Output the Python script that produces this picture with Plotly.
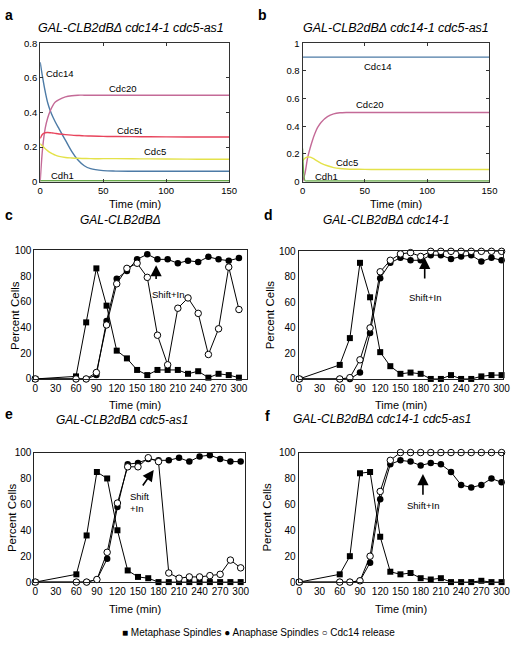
import plotly.graph_objects as go

# simulation time points (min) for panels a and b
t_sim = [0, 2, 4, 6, 8, 10, 12, 15, 20, 25, 30, 35, 40, 50, 60, 80, 100, 125, 150]

a_cdc14 = [0.69, 0.60, 0.52, 0.455, 0.41, 0.375, 0.345, 0.305, 0.24, 0.175, 0.125, 0.092, 0.075, 0.064, 0.061, 0.06, 0.06, 0.06, 0.06]
a_cdc20 = [0.0, 0.20, 0.31, 0.37, 0.41, 0.44, 0.46, 0.475, 0.49, 0.497, 0.5, 0.5, 0.5, 0.5, 0.5, 0.5, 0.5, 0.5, 0.5]
a_cdc5t = [0.25, 0.275, 0.283, 0.284, 0.283, 0.281, 0.279, 0.276, 0.272, 0.269, 0.267, 0.265, 0.264, 0.262, 0.261, 0.26, 0.259, 0.258, 0.258]
a_cdc5 = [0.22, 0.205, 0.19, 0.178, 0.168, 0.16, 0.153, 0.146, 0.14, 0.137, 0.135, 0.134, 0.133, 0.133, 0.133, 0.132, 0.131, 0.13, 0.13]
a_cdh1 = [0.005] * 19

b_cdc14 = [0.9] * 19
b_cdc20 = [0.0, 0.06, 0.17, 0.24, 0.30, 0.35, 0.39, 0.43, 0.47, 0.49, 0.498, 0.5, 0.5, 0.5, 0.5, 0.5, 0.5, 0.5, 0.5]
b_cdc5 = [0.15, 0.17, 0.178, 0.177, 0.17, 0.16, 0.148, 0.133, 0.115, 0.102, 0.095, 0.092, 0.09, 0.089, 0.088, 0.088, 0.088, 0.088, 0.088]
b_cdh1 = [0.24, 0.006, 0.005, 0.005, 0.005, 0.005, 0.005, 0.005, 0.005, 0.005, 0.005, 0.005, 0.005, 0.005, 0.005, 0.005, 0.005, 0.005, 0.005]

# experimental time points (min) for panels c-f
t_exp = [0, 60, 75, 90, 105, 120, 135, 150, 165, 180, 195, 210, 225, 240, 255, 270, 285, 300]

c_meta = [0, 2, 44, 86, 57, 22, 16, 7, 3, 7, 7, 7, 4, 6, 1, 4, 3, 1]
c_ana = [0, 0, 0, 3, 45, 78, 84, 93, 97, 93, 93, 90, 92, 91, 95, 93, 92, 94]
c_rel = [0, 0, 0, 5, 42, 74, 86, 90, 79, 34, 11, 55, 63, 51, 19, 39, 87, 54]

d_meta = [0, 11, 32, 91, 64, 21, 10, 4, 5, 4, 0, 0, 3, 0, 0, 2, 3, 3]
d_ana = [0, 0, 0, 5, 36, 79, 91, 95, 93, 93, 97, 97, 94, 96, 97, 92, 95, 93]
d_rel = [0, 0, 1, 15, 40, 84, 93, 98, 99, 96, 100, 100, 100, 100, 100, 100, 100, 100]

e_meta = [0, 6, 36, 85, 80, 40, 9, 4, 3, 0, 0, 0, 0, 0, 0, 0, 0, 0]
e_ana = [0, 0, 0, 2, 18, 58, 91, 92, 95, 94, 94, 96, 93, 97, 98, 95, 93, 93]
e_rel = [0, 0, 0, 2, 23, 61, 89, 89, 96, 93, 7, 3, 4, 4, 5, 6, 17, 11]

f_meta = [0, 6, 20, 84, 85, 35, 8, 6, 7, 3, 2, 3, 0, 0, 0, 1, 0, 0]
f_ana = [0, 0, 0, 1, 15, 64, 91, 94, 93, 90, 92, 91, 85, 75, 73, 75, 80, 77]
f_rel = [0, 0, 0, 1, 20, 70, 94, 100, 100, 100, 100, 100, 100, 100, 100, 100, 100, 100]

W, H = 520, 646
FONT = "Liberation Sans, Arial, sans-serif"

C14, C20, C5T, C5, CDH1 = "#4d7ba6", "#c46a97", "#e8445c", "#e4e24a", "#6aab4c"


def px_x(p):
    return p / W


def px_y(p):
    return 1 - p / H


fig = go.Figure()

# ---- panels a, b (simulations) ----
sim_a = [(a_cdc14, C14), (a_cdc20, C20), (a_cdc5t, C5T), (a_cdc5, C5), (a_cdh1, CDH1)]
sim_b = [(b_cdc14, C14), (b_cdc20, C20), (b_cdc5, C5), (b_cdh1, CDH1)]
for vals, col in sim_a:
    fig.add_trace(go.Scatter(x=t_sim, y=vals, mode="lines", line=dict(color=col, width=1.4, shape="spline"),
                             xaxis="x", yaxis="y", showlegend=False, cliponaxis=False))
for vals, col in sim_b:
    fig.add_trace(go.Scatter(x=t_sim, y=vals, mode="lines", line=dict(color=col, width=1.4, shape="spline", smoothing=0.6),
                             xaxis="x2", yaxis="y2", showlegend=False, cliponaxis=False))

# ---- panels c-f (experiments) ----
panels = [("x3", "y3", c_meta, c_ana, c_rel), ("x4", "y4", d_meta, d_ana, d_rel),
          ("x5", "y5", e_meta, e_ana, e_rel), ("x6", "y6", f_meta, f_ana, f_rel)]
for xa, ya, meta, ana, rel in panels:
    fig.add_trace(go.Scatter(x=t_exp, y=meta, mode="lines+markers", xaxis=xa, yaxis=ya, showlegend=False,
                             line=dict(color="black", width=1), cliponaxis=False,
                             marker=dict(symbol="square", size=6, color="black")))
    fig.add_trace(go.Scatter(x=t_exp, y=ana, mode="lines+markers", xaxis=xa, yaxis=ya, showlegend=False,
                             line=dict(color="black", width=1), cliponaxis=False,
                             marker=dict(symbol="circle", size=6.5, color="black")))
    fig.add_trace(go.Scatter(x=t_exp, y=rel, mode="lines+markers", xaxis=xa, yaxis=ya, showlegend=False,
                             line=dict(color="black", width=1), cliponaxis=False,
                             marker=dict(symbol="circle", size=6.5, color="white", line=dict(color="black", width=1))))

tickf_sim = dict(family=FONT, size=9.5, color="black")
tickf_exp = dict(family=FONT, size=10, color="black")


def sim_axes(xd, yd, ymax):
    xa = dict(domain=xd, range=[0, 150], tickvals=[0, 50, 100, 150], ticks="inside", ticklen=3,
              showline=True, mirror="ticks", linecolor="#333", linewidth=1, showgrid=False,
              zeroline=False, tickfont=tickf_sim, tickcolor="#333")
    ya = dict(domain=yd, range=[0, ymax], dtick=0.2, ticks="inside", ticklen=3,
              showline=True, mirror="ticks", linecolor="#333", linewidth=1, showgrid=False,
              zeroline=False, tickfont=tickf_sim, tickcolor="#333")
    return xa, ya


def exp_axes(xd, yd, xr):
    xa = dict(domain=xd, range=xr, tickvals=list(range(0, 301, 30)), ticks="",
              showline=True, mirror=True, linecolor="#222", linewidth=1, showgrid=False,
              zeroline=False, tickfont=tickf_exp)
    ya = dict(domain=yd, range=[0, 100], dtick=20, ticks="",
              showline=True, mirror=True, linecolor="#222", linewidth=1, showgrid=False,
              zeroline=False, tickfont=tickf_exp)
    return xa, ya


xa1, ya1 = sim_axes([px_x(38), px_x(231)], [px_y(179), px_y(38)], 0.8)
xa2, ya2 = sim_axes([px_x(306), px_x(497)], [px_y(179), px_y(38)], 1.0)
xa3, ya3 = exp_axes([px_x(32), px_x(249)], [px_y(380), px_y(249)], [-1.4, 311.5])
xa4, ya4 = exp_axes([px_x(302), px_x(511)], [px_y(380), px_y(250)], [-1, 302.4])
xa5, ya5 = exp_axes([px_x(32), px_x(247)], [px_y(587), px_y(455)], [-1.4, 306])
xa6, ya6 = exp_axes([px_x(302), px_x(511)], [px_y(587), px_y(455)], [-1, 302.4])

ya1.update(anchor="x")
ya2.update(anchor="x2")
xa2.update(anchor="y2")
for n, (xa, ya) in enumerate([(xa3, ya3), (xa4, ya4), (xa5, ya5), (xa6, ya6)], start=3):
    xa.update(anchor=f"y{n}")
    ya.update(anchor=f"x{n}")

ann = []


def paper_text(x, y, text, size, **kw):
    d = dict(x=px_x(x), y=px_y(y), xref="paper", yref="paper", text=text, showarrow=False,
             font=dict(family=FONT, size=size, color="black"), xanchor="center", yanchor="middle")
    d.update(kw)
    ann.append(d)


# panel letters
for letter, x, y in [("a", 6, 9), ("b", 265, 9), ("c", 6, 213), ("d", 271, 213), ("e", 6, 416), ("f", 270, 418)]:
    paper_text(x, y, f"<b>{letter}</b>", 14)

# titles
paper_text(131, 22, "<i>GAL-CLB2dBΔ cdc14-1 cdc5-as1</i>", 12.5)
paper_text(402, 22, "<i>GAL-CLB2dBΔ cdc14-1 cdc5-as1</i>", 12.5)
paper_text(120, 218, "<i>GAL-CLB2dBΔ</i>", 12)
paper_text(391, 218, "<i>GAL-CLB2dBΔ cdc14-1</i>", 12)
paper_text(122, 422, "<i>GAL-CLB2dBΔ cdc5-as1</i>", 12)
paper_text(387, 421, "<i>GAL-CLB2dBΔ cdc14-1 cdc5-as1</i>", 12)

# axis titles
for x, y in [(135, 202), (402, 202)]:
    paper_text(x, y, "Time (min)", 11)
for x, y in [(135, 407), (407, 407), (135, 614), (407, 614)]:
    paper_text(x, y, "Time (min)", 11)
for x, y in [(12, 315), (273, 315), (10, 521), (270, 521)]:
    paper_text(x, y, "Percent Cells", 11.5, textangle=-90)

# curve labels in simulation panels
for xa, ya, lab, tx, ty in [("x", "y", "Cdc14", 15, 0.626), ("x", "y", "Cdc20", 65, 0.54),
                            ("x", "y", "Cdc5t", 71, 0.296), ("x", "y", "Cdc5", 91, 0.174),
                            ("x", "y", "Cdh1", 18, 0.036),
                            ("x2", "y2", "Cdc14", 60, 0.83), ("x2", "y2", "Cdc20", 54, 0.56),
                            ("x2", "y2", "Cdc5", 36, 0.136), ("x2", "y2", "Cdh1", 19, 0.038)]:
    ann.append(dict(x=tx, y=ty, xref=xa, yref=ya, text=lab, showarrow=False,
                    font=dict(family=FONT, size=9.5, color="black")))

# Shift+In arrows
for xa, ya, hx, hy, tx, ty in [("x3", "y3", 178, 88.5, 178, 76.5), ("x4", "y4", 186, 95, 186, 77.5),
                               ("x5", "y5", 173, 86.6, 155.5, 73.4), ("x6", "y6", 183.4, 83.5, 183.4, 66.3)]:
    ann.append(dict(x=hx, y=hy, ax=tx, ay=ty, xref=xa, yref=ya, axref=xa, ayref=ya, text="",
                    showarrow=True, arrowhead=2, arrowsize=1.4, arrowwidth=1.6, arrowcolor="black"))
for xa, ya, tx, ty, txt, al in [("x3", "y3", 196, 65.6, "Shift+In", "center"), ("x4", "y4", 187, 64, "Shift+In", "center"),
                                ("x5", "y5", 136, 61.7, "Shift<br>+In", "left"), ("x6", "y6", 183.4, 59.5, "Shift+In", "center")]:
    ann.append(dict(x=tx, y=ty, xref=xa, yref=ya, text=txt, showarrow=False, align="left",
                    xanchor=al, font=dict(family=FONT, size=9.5, color="black")))

# legend line
paper_text(261, 638, "■ Metaphase Spindles ● Anaphase Spindles ○ Cdc14 release", 10)

fig.update_layout(
    width=W, height=H, margin=dict(l=0, r=0, t=0, b=0),
    paper_bgcolor="white", plot_bgcolor="white",
    font=dict(family=FONT, color="black"),
    xaxis=xa1, yaxis=ya1, xaxis2=xa2, yaxis2=ya2, xaxis3=xa3, yaxis3=ya3,
    xaxis4=xa4, yaxis4=ya4, xaxis5=xa5, yaxis5=ya5, xaxis6=xa6, yaxis6=ya6,
    annotations=ann, showlegend=False,
)

# drop the default page margin so the figure sits at the window's top-left corner
fig.write_html("out.html", config={"displayModeBar": False},
               post_script="document.body.style.margin='0';document.body.style.overflow='hidden';")
